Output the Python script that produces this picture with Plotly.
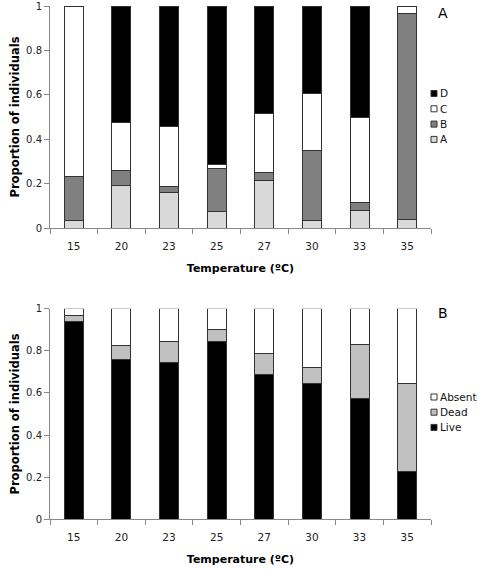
import plotly.graph_objects as go

temps = ["15", "20", "23", "25", "27", "30", "33", "35"]

# Panel A: developmental stages (proportions)
stage_A = [0.036, 0.190, 0.160, 0.075, 0.216, 0.033, 0.080, 0.037]
stage_B = [0.194, 0.067, 0.027, 0.195, 0.034, 0.315, 0.033, 0.930]
stage_C = [0.770, 0.218, 0.269, 0.014, 0.267, 0.257, 0.386, 0.033]
stage_D = [0.000, 0.525, 0.544, 0.716, 0.483, 0.395, 0.501, 0.000]

# Panel B: status (proportions)
live = [0.938, 0.760, 0.744, 0.843, 0.688, 0.646, 0.573, 0.225]
dead = [0.029, 0.066, 0.098, 0.059, 0.097, 0.074, 0.259, 0.418]
absent = [0.033, 0.174, 0.158, 0.098, 0.215, 0.280, 0.168, 0.357]

yticks = [0, 0.2, 0.4, 0.6, 0.8, 1]
yticklabels = ["0", "0.2", "0.4", "0.6", "0.8", "1"]

legendA = ["D", "C", "B", "A"]
legendB = ["Absent", "Dead", "Live"]

FONT = "DejaVu Sans"
W, H = 478, 569
outline = dict(color="#333333", width=1)

colorsA = {"A": "#d9d9d9", "B": "#808080", "C": "#ffffff", "D": "#000000"}
colorsB = {"Live": "#000000", "Dead": "#c0c0c0", "Absent": "#ffffff"}

fig = go.Figure()
for name, vals in [("A", stage_A), ("B", stage_B), ("C", stage_C), ("D", stage_D)]:
    fig.add_trace(go.Bar(x=temps, y=vals, name=name,
                         marker=dict(color=colorsA[name], line=outline),
                         xaxis="x", yaxis="y", showlegend=False))
for name, vals in [("Live", live), ("Dead", dead), ("Absent", absent)]:
    fig.add_trace(go.Bar(x=temps, y=vals, name=name,
                         marker=dict(color=colorsB[name], line=outline),
                         xaxis="x2", yaxis="y2", showlegend=False))

xdom = [50 / W, 431 / W]
ydomA = [1 - 228 / H, 1 - 6 / H]
ydomB = [1 - 519.3 / H, 1 - 308.7 / H]

xax = dict(type="category", showline=True, linecolor="#888888", linewidth=1,
           ticks="outside", tickson="boundaries", ticklen=5, tickcolor="#888888",
           ticklabelstandoff=8,
           showgrid=False, automargin=False,
           tickfont=dict(family=FONT, size=10.5, color="#222"),
           title=dict(text="<b>Temperature (ºC)</b>",
                      font=dict(family=FONT, size=11, color="#000"), standoff=13))
yax = dict(range=[0, 1], tickvals=yticks, ticktext=yticklabels, showline=True,
           linecolor="#888888", linewidth=1, ticks="outside", ticklen=5,
           tickcolor="#888888", showgrid=False, zeroline=False, automargin=False,
           tickfont=dict(family=FONT, size=10, color="#222"),
           title=dict(text="<b>Proportion of individuals</b>",
                      font=dict(family=FONT, size=11.5, color="#000"), standoff=4))

shapes = []
annotations = [
    dict(text="A", x=436 / W, y=1 - 13 / H, xref="paper", yref="paper", showarrow=False,
         xanchor="left", yanchor="middle", font=dict(family=FONT, size=14)),
    dict(text="B", x=436 / W, y=1 - 313 / H, xref="paper", yref="paper", showarrow=False,
         xanchor="left", yanchor="middle", font=dict(family=FONT, size=14)),
]


def add_legend(names, colors, y0, dy):
    for i, nm in enumerate(names):
        yc = y0 + i * dy
        shapes.append(dict(type="rect", xref="paper", yref="paper",
                           x0=431 / W, x1=437 / W, y0=1 - (yc - 3) / H, y1=1 - (yc + 3) / H,
                           fillcolor=colors[nm], line=dict(color="#333333", width=1)))
        annotations.append(dict(text=nm, x=438 / W, y=1 - yc / H, xref="paper", yref="paper",
                                showarrow=False, xanchor="left", yanchor="middle",
                                font=dict(family=FONT, size=10.5, color="#111")))


add_legend(legendA, colorsA, 93.5, 15.3)
add_legend(legendB, colorsB, 397, 15.2)

fig.update_layout(
    width=W, height=H, margin=dict(l=0, r=0, t=0, b=0, autoexpand=False),
    plot_bgcolor="white", paper_bgcolor="white",
    barmode="stack", bargap=0.6, showlegend=False,
    font=dict(family=FONT, size=11, color="#000"),
    xaxis=dict(xax, domain=xdom, anchor="y"),
    yaxis=dict(yax, domain=ydomA, anchor="x"),
    xaxis2=dict(xax, domain=xdom, anchor="y2"),
    yaxis2=dict(yax, domain=ydomB, anchor="x2"),
    shapes=shapes,
    annotations=annotations,
)

fig.write_html("out.html", config={"displayModeBar": False},
               post_script="document.body.style.margin='0';document.body.style.overflow='hidden';")
